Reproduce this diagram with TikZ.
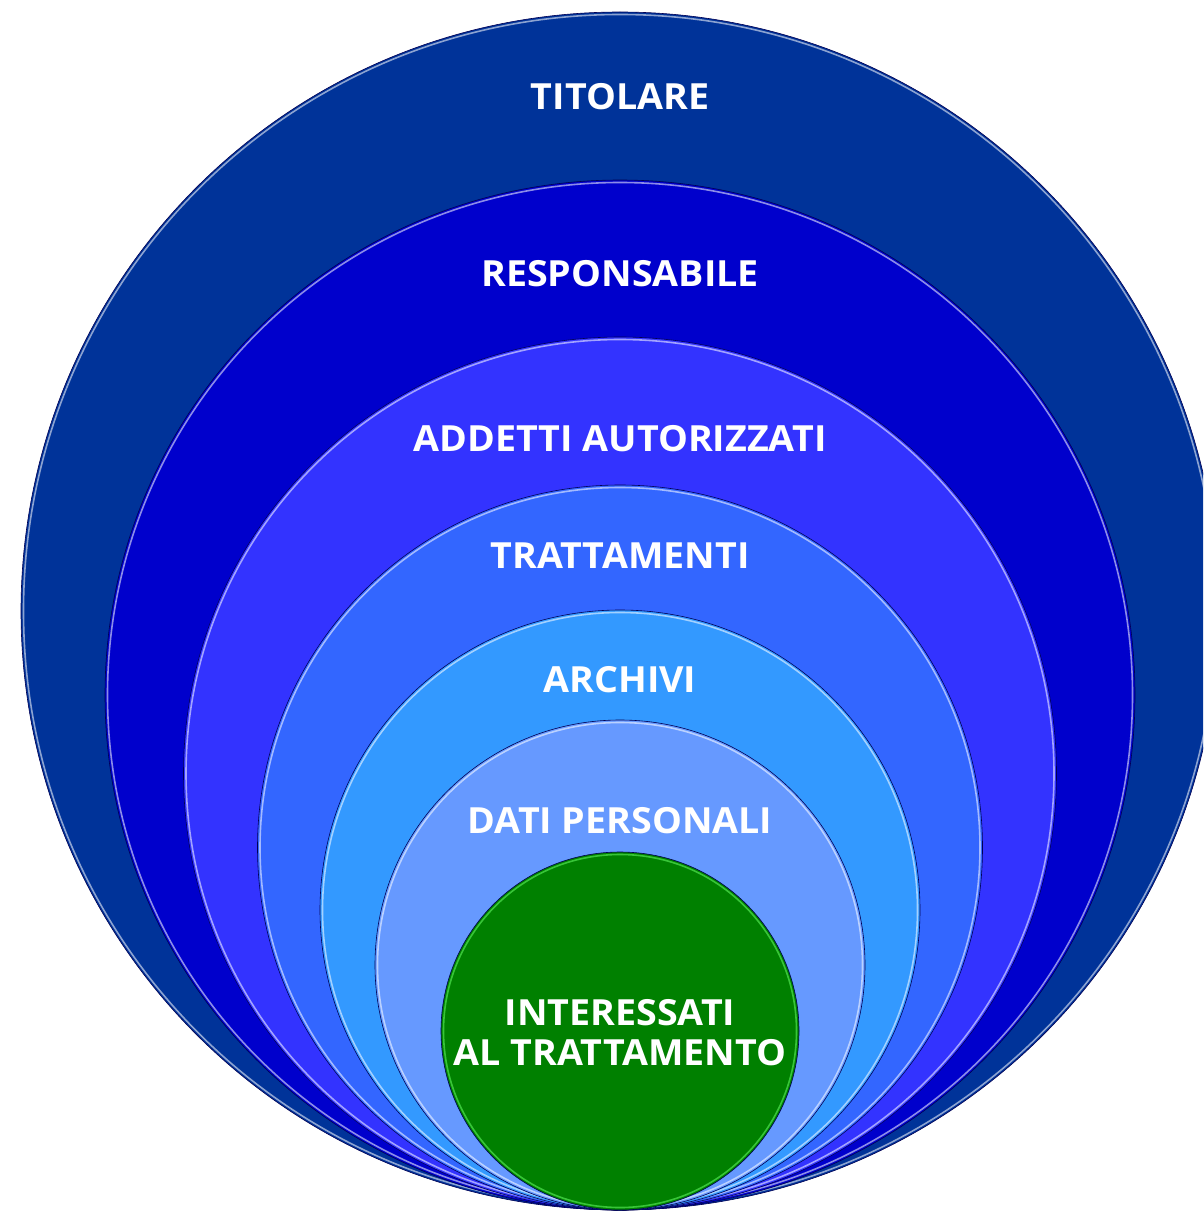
\documentclass[tikz,border=0pt]{standalone}
\usepackage{fontspec}
\setmainfont{Open Sans}
\definecolor{cTit}{HTML}{003399}
\definecolor{cRes}{HTML}{0000CC}
\definecolor{cAdd}{HTML}{3333FF}
\definecolor{cTra}{HTML}{3366FF}
\definecolor{cArc}{HTML}{3399FF}
\definecolor{cDat}{HTML}{6699FF}
\definecolor{cInt}{HTML}{008000}
\tikzset{
  ring/.style={draw=black!45!blue!60!black, line width=0.6pt},
  gloss/.style={draw=white, line width=1.6pt, opacity=0.55},
  lbl/.style={anchor=base, text=white, font=\bfseries\fontsize{36}{41}\selectfont, inner sep=0pt, align=center, xscale=1.045}
}
\begin{document}
\begin{tikzpicture}[x=1pt,y=-1pt]
\useasboundingbox (0,0) rectangle (1203,1212);
\begin{scope}
\clip (0,0) rectangle (1203,1212);
% outer to inner
\fill[cTit, ring] (620,611) circle (599);
\draw[gloss] (620,611) circle (596.5);
\fill[cRes, ring] (620,695) circle (515);
\draw[gloss] (620,695) circle (512.5);
\fill[cAdd, ring] (620,773.5) circle (436.5);
\draw[gloss] (620,773.5) circle (434);
\fill[cTra, ring] (620,847.5) circle (362.5);
\draw[gloss] (620,847.5) circle (360);
\fill[cArc, ring] (620,910) circle (300);
\draw[gloss] (620,910) circle (297.5);
\fill[cDat, ring] (620,965) circle (245);
\draw[gloss] (620,965) circle (242.5);
\fill[cInt, ring] (620,1031) circle (179);
\draw[gloss, draw=green!60!white] (620,1031) circle (176.5);
\end{scope}
\node[lbl] (tit) at (620,110) {TITOLARE};
\node[lbl] (res) at (620,286) {RESPONSABILE};
\node[lbl] (add) at (620,451) {ADDETTI AUTORIZZATI};
\node[lbl] (tra) at (620,568) {TRATTAMENTI};
\node[lbl] (arc) at (620,692) {ARCHIVI};
\node[lbl] (dat) at (620,833) {DATI PERSONALI};
\node[lbl] (int1) at (620,1025) {INTERESSATI};
\node[lbl] (int2) at (620,1065) {AL TRATTAMENTO};
\end{tikzpicture}
\end{document}
